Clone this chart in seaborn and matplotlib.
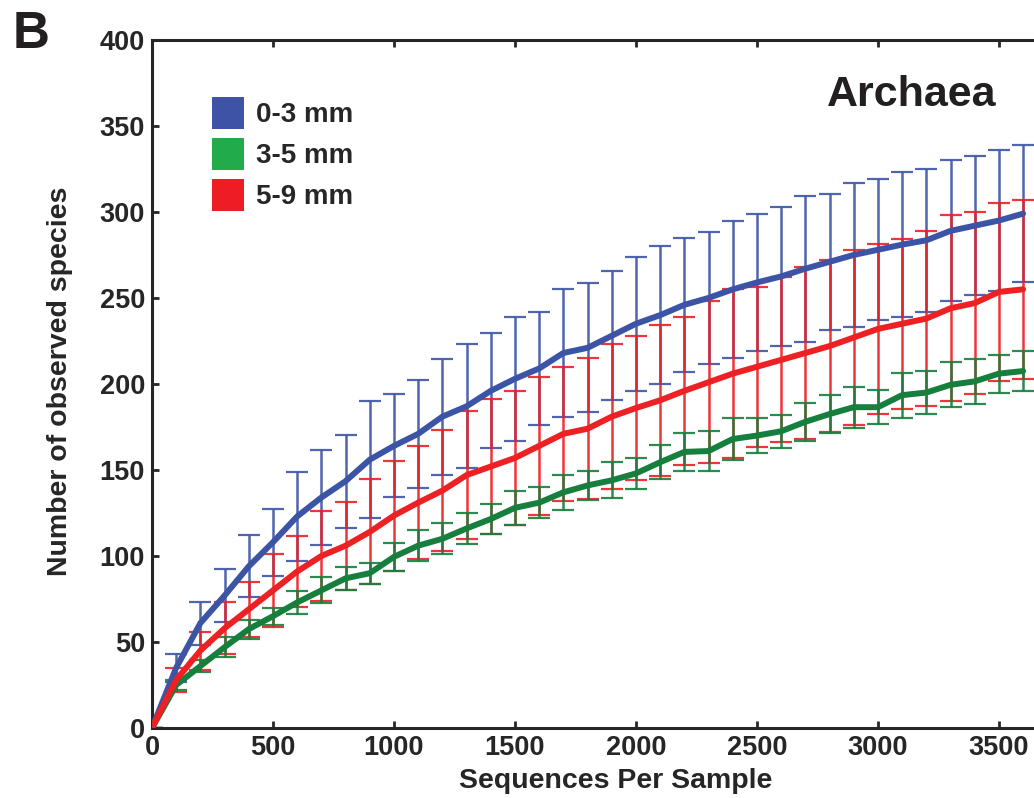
import numpy as np
import pandas as pd
import matplotlib
matplotlib.use("Agg")
import matplotlib.pyplot as plt
from matplotlib.patches import Patch
import seaborn as sns

# --- Data ---
seqs = list(range(0, 3700, 100))

mean_0_3 = [0, 35, 61, 77, 94, 108, 123, 134, 143.5, 156, 164, 171, 181,
            187, 196, 203, 209, 218, 221, 228, 235, 240, 246, 250, 255,
            259, 262.5, 267, 271, 275, 278, 281, 283.5, 289, 292, 295, 299]
err_0_3 = [0, 8, 12.5, 15.5, 18, 19.5, 26, 27.6, 27, 34, 30, 31.5, 33.7,
           36, 33.5, 36, 33, 37, 37.5, 37.5, 39, 40, 39, 38.5, 40,
           40, 40.5, 42.5, 39.5, 42, 41, 42, 41.5, 41, 40.5, 41, 40]

mean_3_5 = [0, 25, 36, 47, 57.5, 65, 73, 80, 87, 90, 99.5, 106, 110,
            116, 121.5, 128, 131, 137, 141, 144, 148, 154.5, 160.5, 161, 168,
            170, 172.5, 178, 182.5, 186.5, 186.5, 193.5, 195, 199.5, 201.5, 206, 207.5]
err_3_5 = [0, 3, 3.5, 6, 5.5, 5, 6.5, 7.5, 6.5, 6, 8, 9, 9,
           9, 8.5, 10, 9, 10, 8.5, 10.5, 9, 10, 11, 11.5, 12,
           10, 9.5, 11, 11, 12, 10, 13, 12.5, 13, 13, 11, 11.7]

mean_5_9 = [0, 28, 45, 58, 69, 80, 91, 100, 106, 114, 123.5, 131, 138,
            147, 152, 157, 164, 171, 174, 181, 186, 190.5, 196, 201, 206,
            210, 214, 218, 222, 227, 232, 235, 238, 244, 247, 253.5, 255]
err_5_9 = [0, 7, 11, 15, 16, 21, 20.5, 26, 25.5, 30.5, 32, 33, 35,
           37, 39, 39, 40, 39, 41, 42, 42, 44, 43, 47, 49,
           46.5, 48, 50, 50, 51, 49.5, 49.5, 51, 54, 53, 51.5, 52]

groups = ["0-3 mm", "3-5 mm", "5-9 mm"]
line_colors = ["#3c54a5", "#177f3d", "#ed2024"]
patch_colors = ["#3f53a6", "#22ab4b", "#ee1c25"]
y_ticks = [0, 50, 100, 150, 200, 250, 300, 350, 400]
x_ticks = [0, 500, 1000, 1500, 2000, 2500, 3000, 3500]

df = pd.concat([
    pd.DataFrame({"seqs": seqs, "species": mean_0_3, "err": err_0_3, "group": groups[0]}),
    pd.DataFrame({"seqs": seqs, "species": mean_3_5, "err": err_3_5, "group": groups[1]}),
    pd.DataFrame({"seqs": seqs, "species": mean_5_9, "err": err_5_9, "group": groups[2]}),
], ignore_index=True)

sns.set_style("ticks")
plt.rcParams["font.family"] = ["Liberation Sans", "DejaVu Sans"]
plt.rcParams["font.weight"] = "bold"

fig = plt.figure(figsize=(10.34, 7.98), dpi=100)
ax = fig.add_axes([0.147, 0.0877, 0.853, 0.8623])

# error bars first (blue, red, green stacking as in the figure)
for g, c in [(groups[0], line_colors[0]), (groups[2], line_colors[2]), (groups[1], line_colors[1])]:
    sub = df[df["group"] == g]
    ax.errorbar(sub["seqs"], sub["species"], yerr=sub["err"], fmt="none",
                ecolor=c, elinewidth=1.8, capsize=8, capthick=1.6, alpha=0.9, zorder=2)

sns.lineplot(data=df, x="seqs", y="species", hue="group", hue_order=groups,
             palette=line_colors, linewidth=4.3, legend=False, ax=ax, zorder=3)

ax.set_xlim(0, 3645)
ax.set_ylim(0, 400)
ax.set_xticks(x_ticks)
ax.set_yticks(y_ticks)
ax.tick_params(axis="both", direction="in", length=5, width=2, labelsize=19.5, pad=5,
               top=True, right=False)
for lab in ax.get_xticklabels() + ax.get_yticklabels():
    lab.set_fontweight("bold")
for side in ["left", "top", "bottom"]:
    ax.spines[side].set_linewidth(2.2)
ax.spines["right"].set_visible(False)

ax.set_xlabel("Sequences Per Sample", fontsize=20.5, fontweight="bold")
ax.set_ylabel("Number of observed species", fontsize=20.5, fontweight="bold")
ax.xaxis.set_label_coords(0.526, -0.058)
ax.yaxis.set_label_coords(-0.089, 0.504)

handles = [Patch(facecolor=c, edgecolor="none", label=g) for g, c in zip(groups, patch_colors)]
ax.legend(handles=handles, loc="upper left", bbox_to_anchor=(0.068, 0.917),
          frameon=False, handlelength=1.15, handleheight=1.395,
          handletextpad=0.45, labelspacing=0.32, borderpad=0, borderaxespad=0,
          prop={"weight": "bold", "size": 20})

ax.text(0.957, 0.904, "Archaea", transform=ax.transAxes, ha="right", va="baseline",
        fontsize=31, fontweight="bold", color="#231f20")
fig.text(0.012, 0.94, "B", fontsize=37, fontweight="bold", color="#231f20")

fig.savefig("out.png", dpi=100)
